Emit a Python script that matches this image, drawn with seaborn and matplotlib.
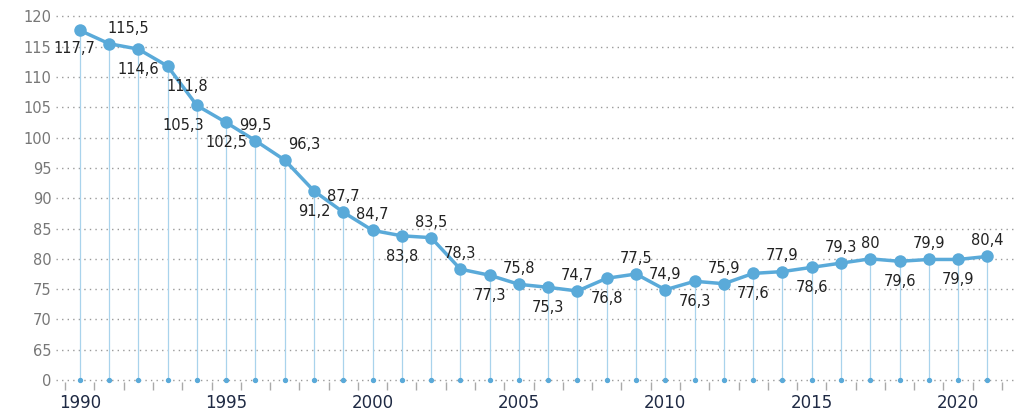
import numpy as np
import seaborn as sns
import matplotlib.pyplot as plt

years = list(range(1990, 2022))
values = [117.7, 115.5, 114.6, 111.8, 105.3, 102.5, 99.5, 96.3, 91.2, 87.7, 84.7, 83.8,
          83.5, 78.3, 77.3, 75.8, 75.3, 74.7, 76.8, 77.5, 74.9, 76.3, 75.9, 77.6, 77.9,
          78.6, 79.3, 80.0, 79.6, 79.9, 79.9, 80.4]
# label placement: 1 above, -1 below
side = [-1, 1, -1, -1, -1, -1, 1, 1, -1, 1, 1, -1, 1, 1, -1, 1, -1, 1, -1, 1, 1, -1,
        1, -1, 1, -1, 1, 1, -1, 1, -1, 1]

blue = "#5aaad9"
sns.set_style("white")
fig, ax = plt.subplots(figsize=(10.24, 4.13), dpi=100)
fig.subplots_adjust(left=0.055, right=0.99, top=0.975, bottom=0.065)

base = 60  # axis break: "0" drawn at 60
yt = [60] + list(range(65, 121, 5))
for y in yt:
    ax.axhline(y, color="#9a9a9a", lw=1, ls=(0, (1, 3)), zorder=0)
ax.vlines(years, base, values, color="#a9d3ec", lw=0.9, zorder=1)
sns.lineplot(x=years, y=values, ax=ax, color=blue, lw=2.5, marker="o", markersize=9,
             markeredgewidth=0, zorder=3)
ax.scatter(years, [base] * len(years), s=8, color=blue, zorder=2)

for x, v, s in zip(years, values, side):
    txt = f"{v:g}".replace(".", ",")
    if x == 1990:
        ax.annotate(txt, (x, v), xytext=(-4, -16), textcoords="offset points",
                    ha="center", fontsize=10.5, color="#222")
        continue
    dx = 14 if x in (1991, 1993, 1997) else 0
    if x == 1994:
        dx = -10
    ax.annotate(txt, (x, v), xytext=(dx, 8 if s > 0 else -18), textcoords="offset points",
                ha="center", fontsize=10.5, color="#222")

ax.set_xlim(1989.2, 2021.9)
ax.set_ylim(59, 121)
ax.set_yticks(yt)
ax.set_yticklabels(["0"] + [str(y) for y in yt[1:]], color="#777", fontsize=10.5)
ax.set_xticks(range(1990, 2021, 5))
ax.set_xticks(np.arange(1989.5, 2022, 1), minor=True)
ax.tick_params(axis="x", which="major", bottom=True, length=0, labelsize=12,
               labelcolor="#1f2a44", pad=6)
ax.tick_params(axis="x", which="minor", bottom=True, length=6, width=1, color="#aaa",
               direction="inout")
ax.tick_params(axis="y", length=0)
for sp in ax.spines.values():
    sp.set_visible(False)
ax.set_xlabel("")
ax.set_ylabel("")
fig.savefig("out.png", dpi=100)
